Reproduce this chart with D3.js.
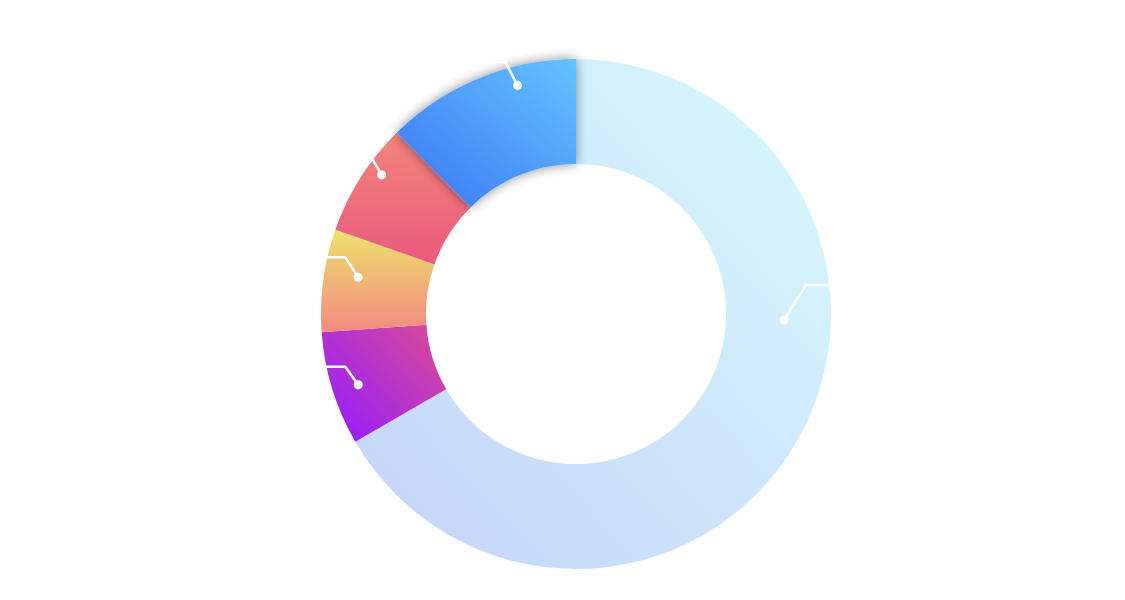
<!DOCTYPE html>
<html>
<head>
<meta charset="utf-8">
<script src="https://cdn.jsdelivr.net/npm/d3@7"></script>
<style>
  html, body { margin: 0; padding: 0; background: #ffffff; }
  svg { display: block; }
</style>
</head>
<body>
<svg id="chart" width="1125" height="600"></svg>
<script>
// ---- data ----
const categories = ['A', 'B', 'C', 'D', 'E'];
const values = [923, 100, 90, 100, 172];
const gradientStops = [
  ['#d8fbfe', '#c4d2f8'],
  ['#981ffa', '#d84a98'],
  ['#ede16c', '#f28a80'],
  ['#f2857a', '#ea5a7e'],
  ['#3b74f5', '#63c3ff']
];

// ---- layout ----
const W = 1125, H = 600;
const cx = 576, cy = 314;
const rInner = 150, rOuter = 255;
// gradient directions in bounding-box units [x1,y1,x2,y2]
const gradDir = [
  [1, 0, 0, 1],
  [0.1, 0.9, 1, 0.1],
  [0, 0, 0, 1],
  [0, 0, 0, 1],
  [0, 1, 1, 0]
];
// label-line geometry: anchor angle offset from slice mid (deg), anchor radius, elbow offset, horizontal run
const labelLayout = [
  { dAng: -28.3, r: 208, ex: 22, ey: -35, run: 40 },
  { dAng: -0.9, r: 229, ex: -13, ey: -18, run: -40 },
  { dAng: 2.0, r: 221, ex: -13, ey: -20, run: -40 },
  { dAng: 3.3, r: 239, ex: -10, ey: -17, run: -40 },
  { dAng: 8.0, r: 236, ex: -12, ey: -23, run: -40 }
];

const svg = d3.select('#chart');
const defs = svg.append('defs');

const filter = defs.append('filter').attr('id', 'shadow')
  .attr('x', '-30%').attr('y', '-30%').attr('width', '160%').attr('height', '160%');
filter.append('feDropShadow')
  .attr('dx', 0).attr('dy', 0).attr('stdDeviation', 6)
  .attr('flood-color', '#000').attr('flood-opacity', 0.45);

gradientStops.forEach((st, i) => {
  const g = defs.append('linearGradient').attr('id', 'grad' + i)
    .attr('x1', gradDir[i][0]).attr('y1', gradDir[i][1])
    .attr('x2', gradDir[i][2]).attr('y2', gradDir[i][3]);
  g.append('stop').attr('offset', 0).attr('stop-color', st[0]);
  g.append('stop').attr('offset', 1).attr('stop-color', st[1]);
});

const pie = d3.pie().sort(null).value(d => d.value).startAngle(0).endAngle(2 * Math.PI);
const data = categories.map((c, i) => ({ name: c, value: values[i], i }));
const arcs = pie(data);
const arc = d3.arc().innerRadius(rInner).outerRadius(rOuter);

const g = svg.append('g').attr('transform', `translate(${cx},${cy})`);

g.selectAll('path.slice')
  .data(arcs)
  .join('path')
  .attr('class', 'slice')
  .attr('d', arc)
  .attr('fill', d => `url(#grad${d.data.i})`)
  .attr('filter', d => d.data.i === 4 ? 'url(#shadow)' : null);

// label lines
const lines = g.append('g');
arcs.forEach((d, i) => {
  const L = labelLayout[i];
  const mid = (d.startAngle + d.endAngle) / 2 + L.dAng * Math.PI / 180;
  const ax = Math.sin(mid) * L.r, ay = -Math.cos(mid) * L.r;
  const bx = ax + L.ex, by = ay + L.ey;
  const pts = [[ax, ay], [bx, by], [bx + L.run, by]];
  lines.append('path')
    .attr('d', d3.line()(pts))
    .attr('fill', 'none')
    .attr('stroke', '#ffffff')
    .attr('stroke-width', 2.5);
  lines.append('circle')
    .attr('cx', ax).attr('cy', ay).attr('r', 4.5)
    .attr('fill', '#ffffff');
});
</script>
</body>
</html>
